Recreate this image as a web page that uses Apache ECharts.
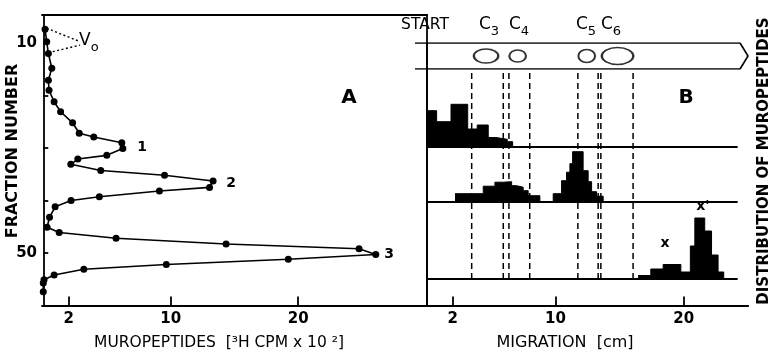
<!DOCTYPE html>
<html><head><meta charset="utf-8">
<script src="https://cdn.jsdelivr.net/npm/echarts@6/dist/echarts.min.js"></script>
<style>html,body{margin:0;padding:0;background:#fff}#c{width:772px;height:355px}</style>
</head><body><div id="c"></div>
<script>
// ---- Panel A: gel filtration profile ----
const fractionNo = [7.4,9.75,12.0,14.8,17.1,19.0,21.2,23.1,25.2,27.2,27.9,29.0,30.1,31.4,32.1,33.1,34.3,35.2,36.3,37.5,38.2,39.3,40.0,41.2,43.2,45.1,46.1,47.2,48.3,49.2,50.3,51.2,52.2,53.1,54.2,55.1,55.7,57.4];
const cpm = [0.14,0.27,0.4,0.67,0.4,0.45,0.85,1.36,2.3,2.82,3.96,6.16,6.24,4.98,2.71,2.16,4.51,9.51,13.32,13.04,9.11,4.4,2.18,0.93,0.49,0.3,1.25,5.71,14.34,24.77,26.08,19.22,9.65,3.18,0.85,0.06,0.0,0.0];
const voidGuideCpm = [[0.27,2.89],[0.4,2.89]];
const voidGuideFrac = [[7.2,9.75],[11.85,10.4]];
const axisATicksX = [2,10,20];
const axisATicksY = [10,20,30,40,50];
const axisALabelsY = [10,50];
// ---- Panel B: paper chromatography ----
const axisBTicksX = [2,10,20];
const spotNames = ['3','4','5','6'];
const spotCenters = [4.6,7.06,12.44,14.84];
const spotWidths = [1.9,1.3,1.3,2.45];
const dashMarks = [3.48,5.94,6.38,8.0,11.75,13.33,13.54,16.05];
const strip1Edges = [0,0.75,1.87,3.17,3.91,4.77,5.37,6.25,6.67];
const strip1Heights = [36.3,25.3,42.7,18,22,9.5,7.7,5.3];
const strip2Edges = [2.18,4.38,5.29,5.94,6.59,6.98,7.49,7.88,8.79,9.83,10.48,10.87,11.13,11.34,12.16,12.55,12.82,13.21,13.72];
const strip2Heights = [8,15.5,19.5,20,16,14.5,11,6,0,8,21,29.5,38,50,31,20,10,5.5];
const strip3Edges = [16.44,17.43,18.39,19.77,20.51,20.86,21.63,22.16,22.67,23.11];
const strip3Heights = [3.5,10,14.5,7,33,61,48,24,7];

const K = '#000';
const FF = 'DejaVu Sans';
const pxPerCm = 321/25;
const hide = {show:false};
function stepData(edges, h){ return edges.map((e,i)=>[e, i<h.length ? h[i] : 0]); }
function plainAxis(extra){ return Object.assign({axisLine:hide, axisTick:hide, axisLabel:hide, splitLine:hide}, extra); }
const lineK = {show:true, lineStyle:{color:K, width:1.8}};

const grids = [
  {left:42, top:15, width:385, height:290.5},   // 0 panel A
  {left:427, top:15, width:321, height:290.5},  // 1 panel B frame
  {left:427, top:43, width:321, height:262.5},  // 2 panel B body
  {left:415, top:43, width:333, height:26},     // 3 gel strip
  {left:427, top:69, width:310, height:210},    // 4 dashed guides
  {left:427, top:69, width:310, height:78},     // 5 strip 1
  {left:427, top:147, width:310, height:54.7},  // 6 strip 2
  {left:427, top:201.7, width:310, height:77.3} // 7 strip 3
];
const stripMax = 310/pxPerCm;
const tickLbl = {color:K, fontFamily:FF, fontWeight:'bold', fontSize:15, margin:6};

const xAxes = [
  {gridIndex:0, type:'value', min:-0.1, max:30.1, axisLine:lineK,
   axisTick:{show:true, inside:true, length:9, lineStyle:{color:K,width:1.8}, customValues:axisATicksX},
   axisLabel:Object.assign({customValues:axisATicksX}, tickLbl), splitLine:hide},
  {gridIndex:0, type:'value', position:'top', min:0, max:1, axisLine:lineK, axisTick:hide, axisLabel:hide, splitLine:hide},
  plainAxis({gridIndex:1, type:'value', position:'top', min:0, max:1, axisLine:lineK}),
  {gridIndex:2, type:'value', min:0, max:25, axisLine:lineK,
   axisTick:{show:true, inside:true, length:9, lineStyle:{color:K,width:1.8}, customValues:axisBTicksX},
   axisLabel:Object.assign({customValues:axisBTicksX}, tickLbl), splitLine:hide},
  plainAxis({gridIndex:3, type:'value', min:-12/pxPerCm, max:25}),
  plainAxis({gridIndex:4, type:'value', min:0, max:stripMax}),
  plainAxis({gridIndex:5, type:'value', min:0, max:stripMax, axisLine:lineK}),
  plainAxis({gridIndex:6, type:'value', min:0, max:stripMax, axisLine:lineK}),
  plainAxis({gridIndex:7, type:'value', min:0, max:stripMax, axisLine:lineK})
];
const yAxes = [
  {gridIndex:0, type:'value', inverse:true, min:10-28/5.25, max:10+262.5/5.25, axisLine:lineK,
   axisTick:{show:true, inside:true, length:5, lineStyle:{color:K,width:1.8}, customValues:axisATicksY},
   axisLabel:Object.assign({customValues:axisALabelsY}, tickLbl, {margin:5}), splitLine:hide},
  plainAxis({gridIndex:1, type:'value', position:'right', min:0, max:1, axisLine:lineK}),
  plainAxis({gridIndex:2, type:'value', min:0, max:1, axisLine:lineK}),
  plainAxis({gridIndex:3, type:'value', min:0, max:1}),
  plainAxis({gridIndex:4, type:'value', min:0, max:1}),
  plainAxis({gridIndex:5, type:'value', min:0, max:78}),
  plainAxis({gridIndex:6, type:'value', min:0, max:54.7}),
  plainAxis({gridIndex:7, type:'value', min:0, max:77.3})
];

const series = [];
series.push({type:'line', xAxisIndex:0, yAxisIndex:0, data:cpm.map((c,i)=>[c,fractionNo[i]]),
  symbol:'circle', symbolSize:7, itemStyle:{color:K}, lineStyle:{color:K,width:1.6}, animation:false, z:5});
voidGuideCpm.forEach((xs,i)=>series.push({type:'line', xAxisIndex:0, yAxisIndex:0,
  data:xs.map((x,j)=>[x, voidGuideFrac[i][j]]), symbol:'none', lineStyle:{color:K,width:1.4,type:[2,2.5]}, animation:false}));
// gel strip outline with arrow tip
series.push({type:'line', xAxisIndex:4, yAxisIndex:3,
  data:[[-12/pxPerCm,1],[24.38,1],[25,0.5],[24.38,0],[-12/pxPerCm,0]],
  symbol:'none', lineStyle:{color:K,width:1.6}, animation:false});
series.push({type:'scatter', xAxisIndex:4, yAxisIndex:3,
  data:spotCenters.map((c,i)=>[c,0.5,spotWidths[i]]),
  symbol:'circle', symbolSize:(v,p)=>[v[2]*pxPerCm, [14,12,13,17][p.dataIndex]],
  itemStyle:{color:'rgba(0,0,0,0)', borderColor:K, borderWidth:1.8}, animation:false});
dashMarks.forEach(m=>series.push({type:'line', xAxisIndex:5, yAxisIndex:4, data:[[m,0],[m,1]],
  symbol:'none', lineStyle:{color:K,width:1.5,type:[6,4]}, animation:false}));
[[strip1Edges,strip1Heights],[strip2Edges,strip2Heights],[strip3Edges,strip3Heights]].forEach((s,i)=>
  series.push({type:'line', xAxisIndex:6+i, yAxisIndex:5+i, data:stepData(s[0],s[1]), step:'end',
    symbol:'none', lineStyle:{color:K,width:1}, areaStyle:{color:K, opacity:1}, animation:false, z:4}));

function txt(text, x, y, size, weight, extra){
  return Object.assign({type:'text', x:x, y:y, style:{text:text, fill:K, fontFamily:FF, fontSize:size, fontWeight:weight||'normal', align:'center', verticalAlign:'middle'}}, extra||{});
}
const subRich = {a:{fontSize:17, fontFamily:FF, verticalAlign:'top', lineHeight:22}, s:{fontSize:13, fontFamily:FF, verticalAlign:'bottom', lineHeight:22}};
const graphic = [
  txt('FRACTION NUMBER', 13, 151, 16, 'bold', {rotation:Math.PI/2}),
  txt('DISTRIBUTION OF MUROPEPTIDES', 764, 161, 15, 'bold', {rotation:Math.PI/2}),
  txt('MUROPEPTIDES  [³H CPM x 10 ²]', 219, 343, 15.5, 'normal'),
  txt('MIGRATION  [cm]', 565, 343, 16, 'normal'),
  txt('A', 349, 98, 20, 'bold'), txt('B', 686, 98, 20, 'bold'),
  txt('1', 142, 147, 14, 'bold'), txt('2', 231, 183, 14, 'bold'), txt('3', 389, 254, 14, 'bold'),
  txt('x', 665, 243, 14, 'bold'), txt("x'", 703, 206, 14, 'bold'),
  txt('START', 425, 25, 15.5, 'normal'),
  {type:'text', x:79, y:32, style:{text:'{a|V}{s|o}', rich:subRich, fill:K}},
];
spotNames.forEach((n,i)=>graphic.push({type:'text', x:[479,509,576,601][i], y:16, style:{text:'{a|C}{s|'+n+'}', rich:subRich, fill:K}}));

const chart = echarts.init(document.getElementById('c'), null, {renderer:'canvas'});
chart.setOption({animation:false, backgroundColor:'#fff', grid:grids, xAxis:xAxes, yAxis:yAxes, series:series, graphic:graphic});
</script></body></html>
